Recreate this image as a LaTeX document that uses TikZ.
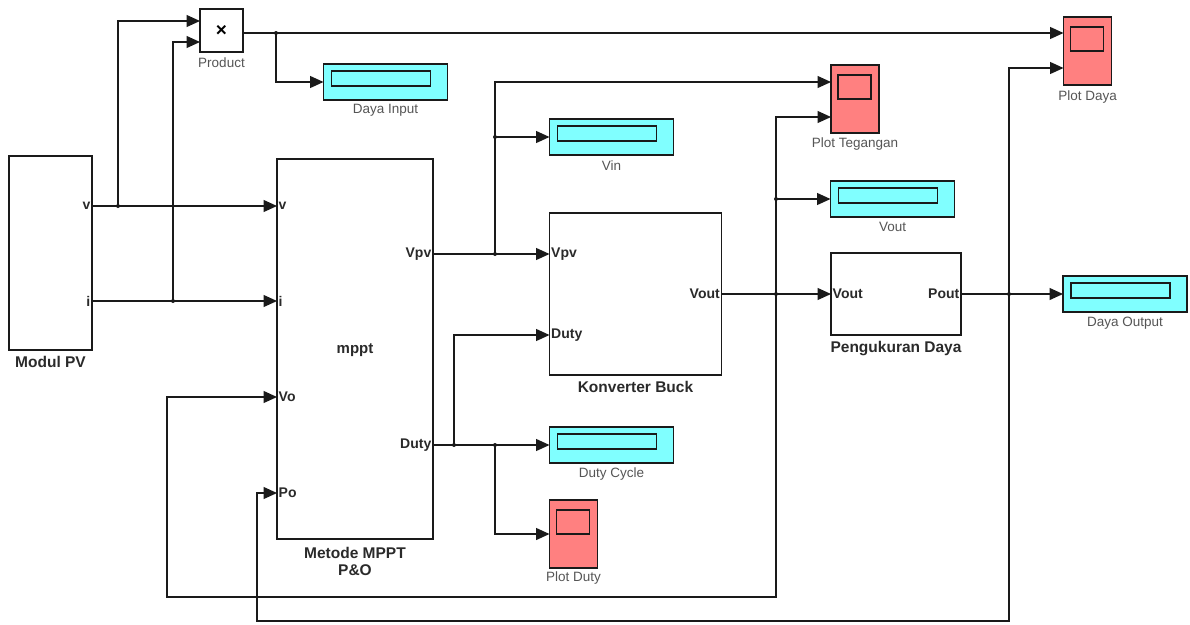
\documentclass[tikz,border=0pt]{standalone}
\usepackage{fontspec}
\setmainfont{Liberation Sans}
\usetikzlibrary{arrows.meta,calc}
\definecolor{dispcyan}{HTML}{80FFFF}
\definecolor{scopered}{HTML}{FF8080}
\definecolor{lblgray}{HTML}{555555}
\definecolor{portcol}{HTML}{2A2A2A}
\definecolor{linecol}{HTML}{1A1A1A}
\newcommand\dispbar[1]{\draw[barstyle] ($(#1.north west)+(8,7)$) rectangle ($(#1.north east)+(-17,22)$);}
\newcommand\scopescreen[1]{\draw[barstyle] ($(#1.north west)+(7,10)$) rectangle ($(#1.north east)+(-8,34)$);}
\begin{document}
\begin{tikzpicture}[x=1pt,y=-1pt,
  blk/.style={draw=linecol, line width=1.3pt, fill=white, inner sep=0pt, outer sep=0pt},
  thickblk/.style={blk, line width=2.6pt},
  disp/.style={draw=linecol, line width=1.3pt, fill=dispcyan, minimum width=124pt, minimum height=36pt, inner sep=0pt, outer sep=0pt},
  scope/.style={draw=linecol, line width=1.3pt, fill=scopered, minimum width=48pt, minimum height=68pt, inner sep=0pt, outer sep=0pt},
  barstyle/.style={draw=linecol, line width=1.3pt},
  wire/.style={draw=linecol, line width=1.3pt},
  arr/.style={wire, -{Triangle[length=13.5pt,width=12pt]}},
  dot/.style={circle, fill=linecol, inner sep=0pt, minimum size=4pt},
  lbl/.style={text=lblgray, font=\fontsize{13.5}{15}\selectfont, inner sep=0pt},
  blbl/.style={text=portcol, font=\fontsize{15.5}{18}\bfseries\selectfont, inner sep=0pt, align=center},
  port/.style={text=portcol, font=\fontsize{14}{16}\bfseries\selectfont, inner sep=1.5pt},
]
\useasboundingbox (0,0) rectangle (1190,624);

% ---------- blocks ----------
\node[blk, minimum width=83pt, minimum height=194pt] (pv) at (50.5,253) {};
\node[blbl] (pvlbl) at (50.5,362) {Modul PV};

\node[blk, minimum width=43pt, minimum height=43pt, font=\fontsize{19}{20}\bfseries\selectfont] (prod) at (221.5,30.5) {×};
\node[lbl] (prodlbl) at (221.5,63) {Product};

\node[disp] (dayain) at (385.5,82) {};
\dispbar{dayain}
\node[lbl] (dayainlbl) at (385.5,110) {Daya Input};

\node[thickblk, minimum width=156pt, minimum height=380pt] (mppt) at (355,349) {};
\node[blbl, font=\fontsize{15}{17}\bfseries\selectfont] (mpptc) at (355,350) {mppt};
\node[blbl] (mpptlbl) at (355,561) {Metode MPPT\\[-1pt]P\&O};

\node[disp] (vin) at (611.5,137) {};
\dispbar{vin}
\node[lbl] (vinlbl) at (611.5,166) {Vin};

\node[scope] (ptg) at (855,99) {};
\scopescreen{ptg}
\node[lbl] (ptglbl) at (855,144) {Plot Tegangan};

\node[scope, minimum height=68pt] (pdaya) at (1087.5,51) {};
\scopescreen{pdaya}
\node[lbl] (pdayalbl) at (1087.5,97) {Plot Daya};

\node[blk, minimum width=172pt, minimum height=162pt] (buck) at (635.5,294) {};
\node[blbl] (bucklbl) at (635.5,387) {Konverter Buck};

\node[disp] (vout) at (892.5,199) {};
\dispbar{vout}
\node[lbl] (voutlbl) at (892.5,227) {Vout};

\node[blk, minimum width=130pt, minimum height=82pt] (peng) at (896,294) {};
\node[blbl] (penglbl) at (896,349) {Pengukuran Daya};

\node[disp] (dout) at (1125,294) {};
\dispbar{dout}
\node[lbl] (doutlbl) at (1125,323) {Daya Output};

\node[disp] (dcyc) at (611.5,445) {};
\dispbar{dcyc}
\node[lbl] (dcyclbl) at (611.5,474) {Duty Cycle};

\node[scope] (pduty) at (573.5,534) {};
\scopescreen{pduty}
\node[lbl] (pdutylbl) at (573.5,578) {Plot Duty};

% ---------- ports ----------
\coordinate (pvv) at (pv.east |- 0,206);
\coordinate (pvi) at (pv.east |- 0,301);
\node[port, anchor=east] at (pvv) {v};
\node[port, anchor=east] at (pvi) {i};

\coordinate (mv) at (mppt.west |- 0,206);
\coordinate (mi) at (mppt.west |- 0,301);
\coordinate (mvo) at (mppt.west |- 0,397);
\coordinate (mpo) at (mppt.west |- 0,493);
\coordinate (mvpv) at (mppt.east |- 0,254);
\coordinate (mduty) at (mppt.east |- 0,445);
\node[port, anchor=west] at (mv) {v};
\node[port, anchor=west] at (mi) {i};
\node[port, anchor=west] at (mvo) {Vo};
\node[port, anchor=west] at (mpo) {Po};
\node[port, anchor=east] at (mvpv) {Vpv};
\node[port, anchor=east] at (mduty) {Duty};

\coordinate (bvpv) at (buck.west |- 0,254);
\coordinate (bduty) at (buck.west |- 0,335);
\coordinate (bvout) at (buck.east |- 0,294);
\node[port, anchor=west] at (bvpv) {Vpv};
\node[port, anchor=west] at (bduty) {Duty};
\node[port, anchor=east] at (bvout) {Vout};

\coordinate (pgvout) at (peng.west |- 0,294);
\coordinate (pgpout) at (peng.east |- 0,294);
\node[port, anchor=west] at (pgvout) {Vout};
\node[port, anchor=east] at (pgpout) {Pout};

\coordinate (prin1) at (prod.west |- 0,21);
\coordinate (prin2) at (prod.west |- 0,42);
\coordinate (prout) at (prod.east |- 0,33);
\coordinate (ptgin1) at (ptg.west |- 0,82);
\coordinate (ptgin2) at (ptg.west |- 0,117);
\coordinate (pdin1) at (pdaya.west |- 0,33);
\coordinate (pdin2) at (pdaya.west |- 0,68);

% ---------- branch points ----------
\node[dot] (j1) at (118,206) {};
\node[dot] (j2) at (173,301) {};
\node[dot] (j3) at (276,33) {};
\node[dot] (j4) at (495,254) {};
\node[dot] (j5) at (495,137) {};
\node[dot] (j6) at (454,445) {};
\node[dot] (j7) at (495,445) {};
\node[dot] (j8) at (776,294) {};
\node[dot] (j9) at (776,199) {};
\node[dot] (j10) at (1009,294) {};
\coordinate (c1) at (776,597);
\coordinate (c2) at (167,597);
\coordinate (c3) at (1009,621);
\coordinate (c4) at (257,621);

% ---------- connectors ----------
\draw[arr] (pvv) -- (mv);
\draw[arr] (pvi) -- (mi);
\draw[arr] (j1.center) |- (prin1);
\draw[arr] (j2.center) |- (prin2);
\draw[arr] (prout) -- (pdin1);
\draw[arr] (j3.center) |- (dayain.west);

\draw[arr] (mvpv) -- (bvpv);
\draw[arr] (j4.center) |- (ptgin1);
\draw[arr] (j5.center) -- (vin.west);

\draw[arr] (mduty) -- (dcyc.west);
\draw[arr] (j6.center) |- (bduty);
\draw[arr] (j7.center) |- (pduty.west);

\draw[arr] (bvout) -- (pgvout);
\draw[arr] (j8.center) |- (ptgin2);
\draw[arr] (j9.center) -- (vout.west);
\draw[arr] (j8.center) -- (c1) -- (c2) |- (mvo);

\draw[arr] (pgpout) -- (dout.west);
\draw[arr] (j10.center) |- (pdin2);
\draw[arr] (j10.center) -- (c3) -- (c4) |- (mpo);
\end{tikzpicture}
\end{document}
